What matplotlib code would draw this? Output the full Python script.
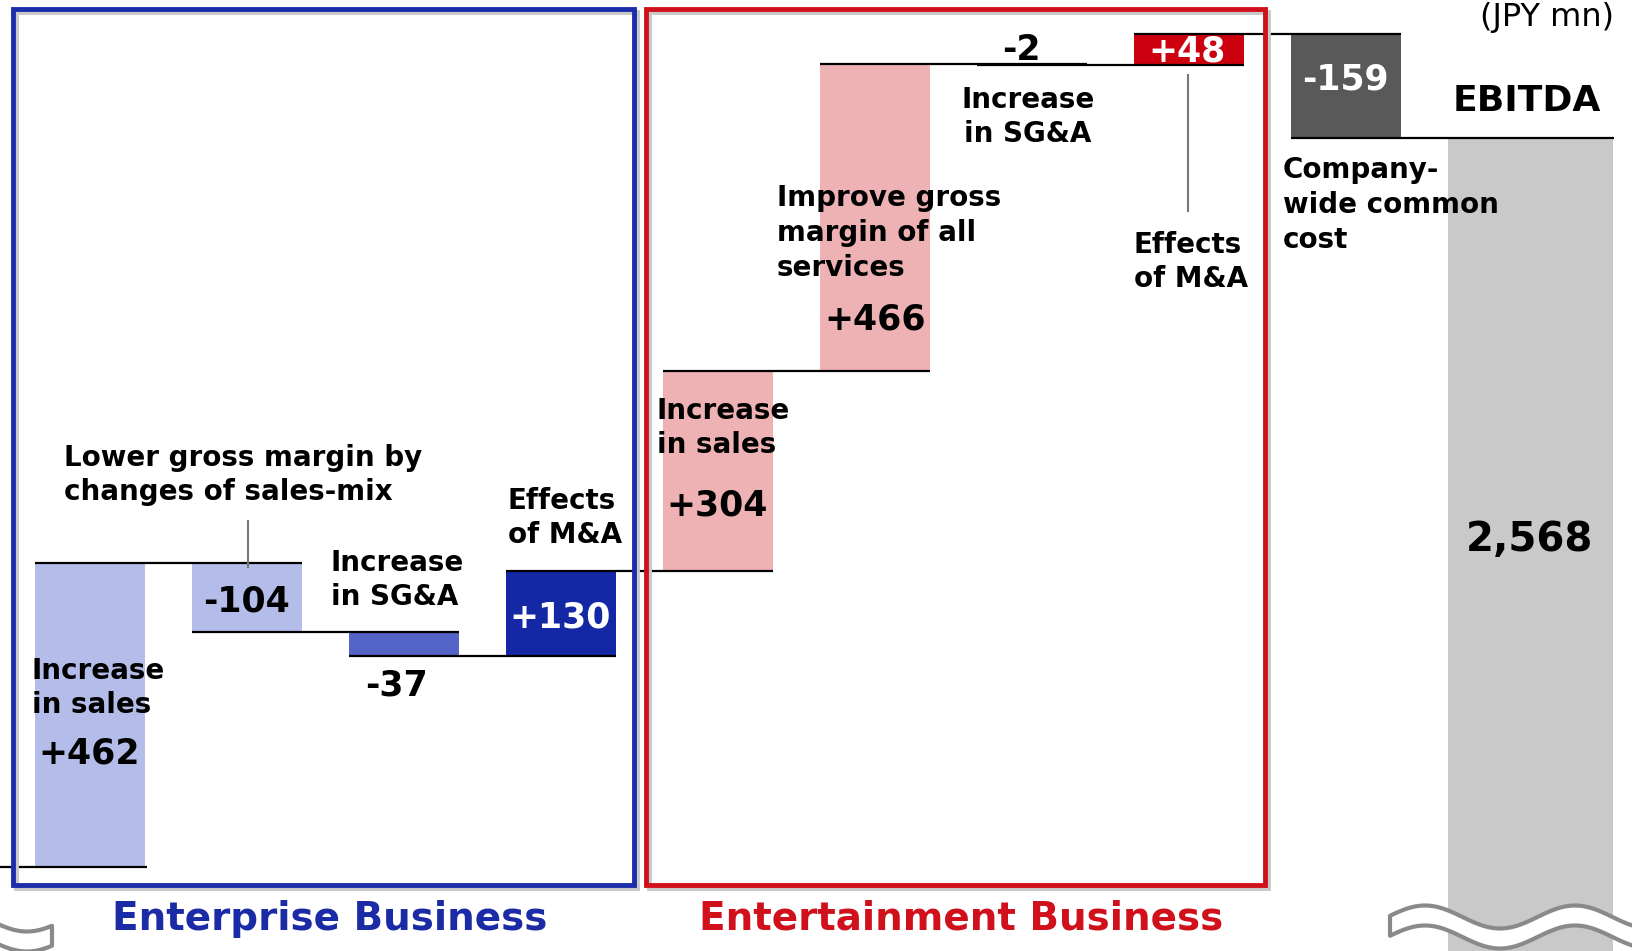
import numpy as np
import matplotlib.pyplot as plt
from matplotlib.patches import Rectangle, Polygon

plt.rcParams['font.family'] = ['DejaVu Sans']

W, H = 1633, 951  # output size in pixels

# data: EBITDA bridge (JPY mn)
steps = ['Increase in sales', 'Lower gross margin by changes of sales-mix', 'Increase in SG&A',
         'Effects of M&A', 'Increase in sales', 'Improve gross margin of all services',
         'Increase in SG&A', 'Effects of M&A', 'Company-wide common cost']
changes = [462, -104, -37, 130, 304, 466, -2, 48, -159]
ebitda = 2568
bar_colors = ['#b4bde9', '#b4bde9', '#5464c8', '#1428a6',
              '#efb2b4', '#efb2b4', '#efb2b4', '#cc000f', '#595959']
ebitda_color = '#c9c9c9'

start = ebitda - sum(changes)
levels = start + np.concatenate([[0], np.cumsum(changes)])
x = np.arange(len(changes))
bottoms = np.minimum(levels[:-1], levels[1:])
heights = np.abs(changes)

fig = plt.figure(figsize=(W / 100, H / 100), dpi=100)
ax = fig.add_axes([0, 0, 1, 1])
ax.bar(x, heights, bottom=bottoms, width=0.7, color=bar_colors, zorder=1)
ax.bar(len(changes) + 0.175, ebitda, width=1.05, color=ebitda_color, zorder=1)

xl = (-0.574, 9.83)
# connector lines
ax.hlines(start, xl[0], 0.36, color='black', lw=1.6, zorder=2)
for i in range(len(changes)):
    right = i + 1.35 if i < len(changes) - 1 else len(changes) + 0.71
    ax.hlines(levels[i + 1], i - 0.35, right, color='black', lw=1.6, zorder=2)
ax.set_xlim(*xl)
ax.set_ylim(1333, 2778)
ax.axis('off')

# overlay in pixel coordinates for annotations
ov = fig.add_axes([0, 0, 1, 1], zorder=3)
ov.set_xlim(0, W)
ov.set_ylim(H, 0)
ov.axis('off')
ov.patch.set_alpha(0)

# segment boxes with soft shadow
for x0, x1, c in [(13.5, 634, '#1a2eaa'), (646, 1265.5, '#d0111c')]:
    ov.add_patch(Rectangle((x0 + 3, 9.4 + 3), x1 - x0, 876, fill=False, ec='#c8c8c8', lw=3.5))
    ov.add_patch(Rectangle((x0, 9.4), x1 - x0, 876, fill=False, ec=c, lw=3.5))

# callout lines
ov.plot([248, 248], [521, 567], color='#777777', lw=1.5)
ov.plot([1188, 1188], [75, 211], color='#777777', lw=1.5)


def wave(x0, x1, yc, x_trough):
    xs = np.linspace(x0, x1, 300)
    yu = yc + 11.5 * np.cos(2 * np.pi * (xs - x_trough) / 150)
    yl = yu + 20
    pts = np.vstack([np.column_stack([xs, yu]), np.column_stack([xs[::-1], yl[::-1]])])
    ov.add_patch(Polygon(pts, closed=True, fc='white', ec='#8a8a8a', lw=3, joinstyle='round'))


wave(-160, 52, 920, 27)
wave(1390, 1700, 917, 1500)

bold = dict(fontweight='bold')
lbl = dict(fontsize=20, linespacing=1.3, **bold)
num = dict(fontsize=25, ha='center', va='center', **bold)

# Enterprise business
ov.text(64, 475, 'Lower gross margin by\nchanges of sales-mix', ha='left', va='center', **lbl)
ov.text(32, 688, 'Increase\nin sales', ha='left', va='center', **lbl)
ov.text(89, 754, f'+{changes[0]}', **num)
ov.text(247, 602, f'{changes[1]}', **num)
ov.text(331, 580, 'Increase\nin SG&A', ha='left', va='center', **lbl)
ov.text(397, 685, f'{changes[2]}', **num)
ov.text(508, 518, 'Effects\nof M&A', ha='left', va='center', **lbl)
ov.text(560, 618, f'+{changes[3]}', color='white', **num)

# Entertainment business
ov.text(657, 428, 'Increase\nin sales', ha='left', va='center', **lbl)
ov.text(717, 505, f'+{changes[4]}', **num)
ov.text(777, 233, 'Improve gross\nmargin of all\nservices', ha='left', va='center', **lbl)
ov.text(875, 319, f'+{changes[5]}', **num)
ov.text(1021, 50, f'{changes[6]}', **num)
ov.text(1028, 117, 'Increase\nin SG&A', ha='center', va='center', multialignment='center', **lbl)
ov.text(1187, 51, f'+{changes[7]}', color='white', **num)
ov.text(1134, 262, 'Effects\nof M&A', ha='left', va='center', **lbl)

# Company-wide and total
ov.text(1345, 80, f'{changes[8]}', color='white', **num)
ov.text(1283, 205, 'Company-\nwide common\ncost', ha='left', va='center', **lbl)
ov.text(1527, 101, 'EBITDA', fontsize=26, ha='center', va='center', **bold)
ov.text(1530, 540, f'{ebitda:,}', fontsize=29, ha='center', va='center', **bold)
ov.text(1614, 2, '(JPY mn)', fontsize=23, ha='right', va='top')

ov.text(330, 919, 'Enterprise Business', fontsize=28, color='#1b2ba6', ha='center', va='center', **bold)
ov.text(961, 919, 'Entertainment Business', fontsize=28, color='#d0111c', ha='center', va='center', **bold)

fig.savefig('out.png', dpi=100)
